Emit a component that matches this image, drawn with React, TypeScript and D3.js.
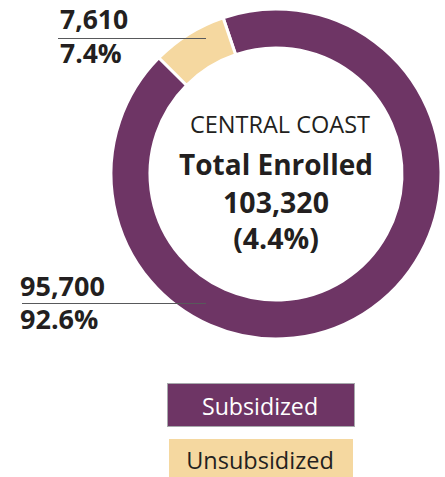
import React from "react";
import * as d3 from "d3";

const categories = ["Subsidized", "Unsubsidized"];
const values = [95700, 7610];
const percentLabels = ["92.6%", "7.4%"];
const valueLabels = ["95,700", "7,610"];
const colors = ["#6e3565", "#f5d8a0"];
const titleLines = ["CENTRAL COAST", "Total Enrolled", "103,320", "(4.4%)"];

const W = 445;
const H = 477;
const cx = 276;
const cy = 174;
const outerR = 165;
const innerR = 126;
const FONT = "'Open Sans', 'Noto Sans', sans-serif";
const DARK = "#231f20";

export default function App() {
  const deg = Math.PI / 180;
  const pie = d3
    .pie<number>()
    .sort(null)
    .value((d) => d)
    .startAngle(-18.7 * deg)
    .endAngle(-18.7 * deg + 2 * Math.PI);
  const arcs = pie(values);
  const arcGen = d3
    .arc<d3.PieArcDatum<number>>()
    .innerRadius(innerR)
    .outerRadius(outerR);

  return (
    <svg
      width={W}
      height={H}
      style={{ position: "absolute", left: 0, top: 0, background: "#fff" }}
      fontFamily={FONT}
    >
      <g transform={`translate(${cx},${cy})`}>
        {arcs.map((a, i) => (
          <path
            key={categories[i]}
            d={arcGen(a) || ""}
            fill={colors[i]}
            stroke="#fff"
            strokeWidth={3}
            strokeLinejoin="miter"
          />
        ))}
      </g>
      {/* center text */}
      <text x={cx + 4} y={133} textAnchor="middle" fontSize={23.5} fill={DARK}>
        {titleLines[0]}
      </text>
      <text x={cx} y={175} textAnchor="middle" fontSize={28} fontWeight={700} fill={DARK}>
        {titleLines[1]}
      </text>
      <text x={cx} y={213} textAnchor="middle" fontSize={28.5} fontWeight={700} fill={DARK}>
        {titleLines[2]}
      </text>
      <text x={cx} y={249} textAnchor="middle" fontSize={28.5} fontWeight={700} fill={DARK}>
        {titleLines[3]}
      </text>

      {/* Unsubsidized label */}
      <line x1={58} x2={206} y1={38.5} y2={38.5} stroke="#58595b" strokeWidth={1.2} />
      <text x={60} y={29} fontSize={26.5} fontWeight={700} fill={DARK}>
        {valueLabels[1]}
      </text>
      <text x={60} y={63} fontSize={26.5} fontWeight={700} fill={DARK}>
        {percentLabels[1]}
      </text>

      {/* Subsidized label */}
      <line x1={22} x2={206} y1={303.5} y2={303.5} stroke="#58595b" strokeWidth={1.2} />
      <text x={20} y={296} fontSize={27} fontWeight={700} fill={DARK}>
        {valueLabels[0]}
      </text>
      <text x={20} y={329} fontSize={27} fontWeight={700} fill={DARK}>
        {percentLabels[0]}
      </text>

      {/* legend */}
      <rect x={167.5} y={383.5} width={187} height={43} fill={colors[0]} stroke="#a7a9ac" strokeWidth={1} />
      <text x={260} y={415} textAnchor="middle" fontSize={23.2} fill="#fff">
        {categories[0]}
      </text>
      <rect x={169} y={439} width={184} height={45} fill={colors[1]} />
      <text x={260} y={469} textAnchor="middle" fontSize={23.5} fill={DARK}>
        {categories[1]}
      </text>
    </svg>
  );
}
